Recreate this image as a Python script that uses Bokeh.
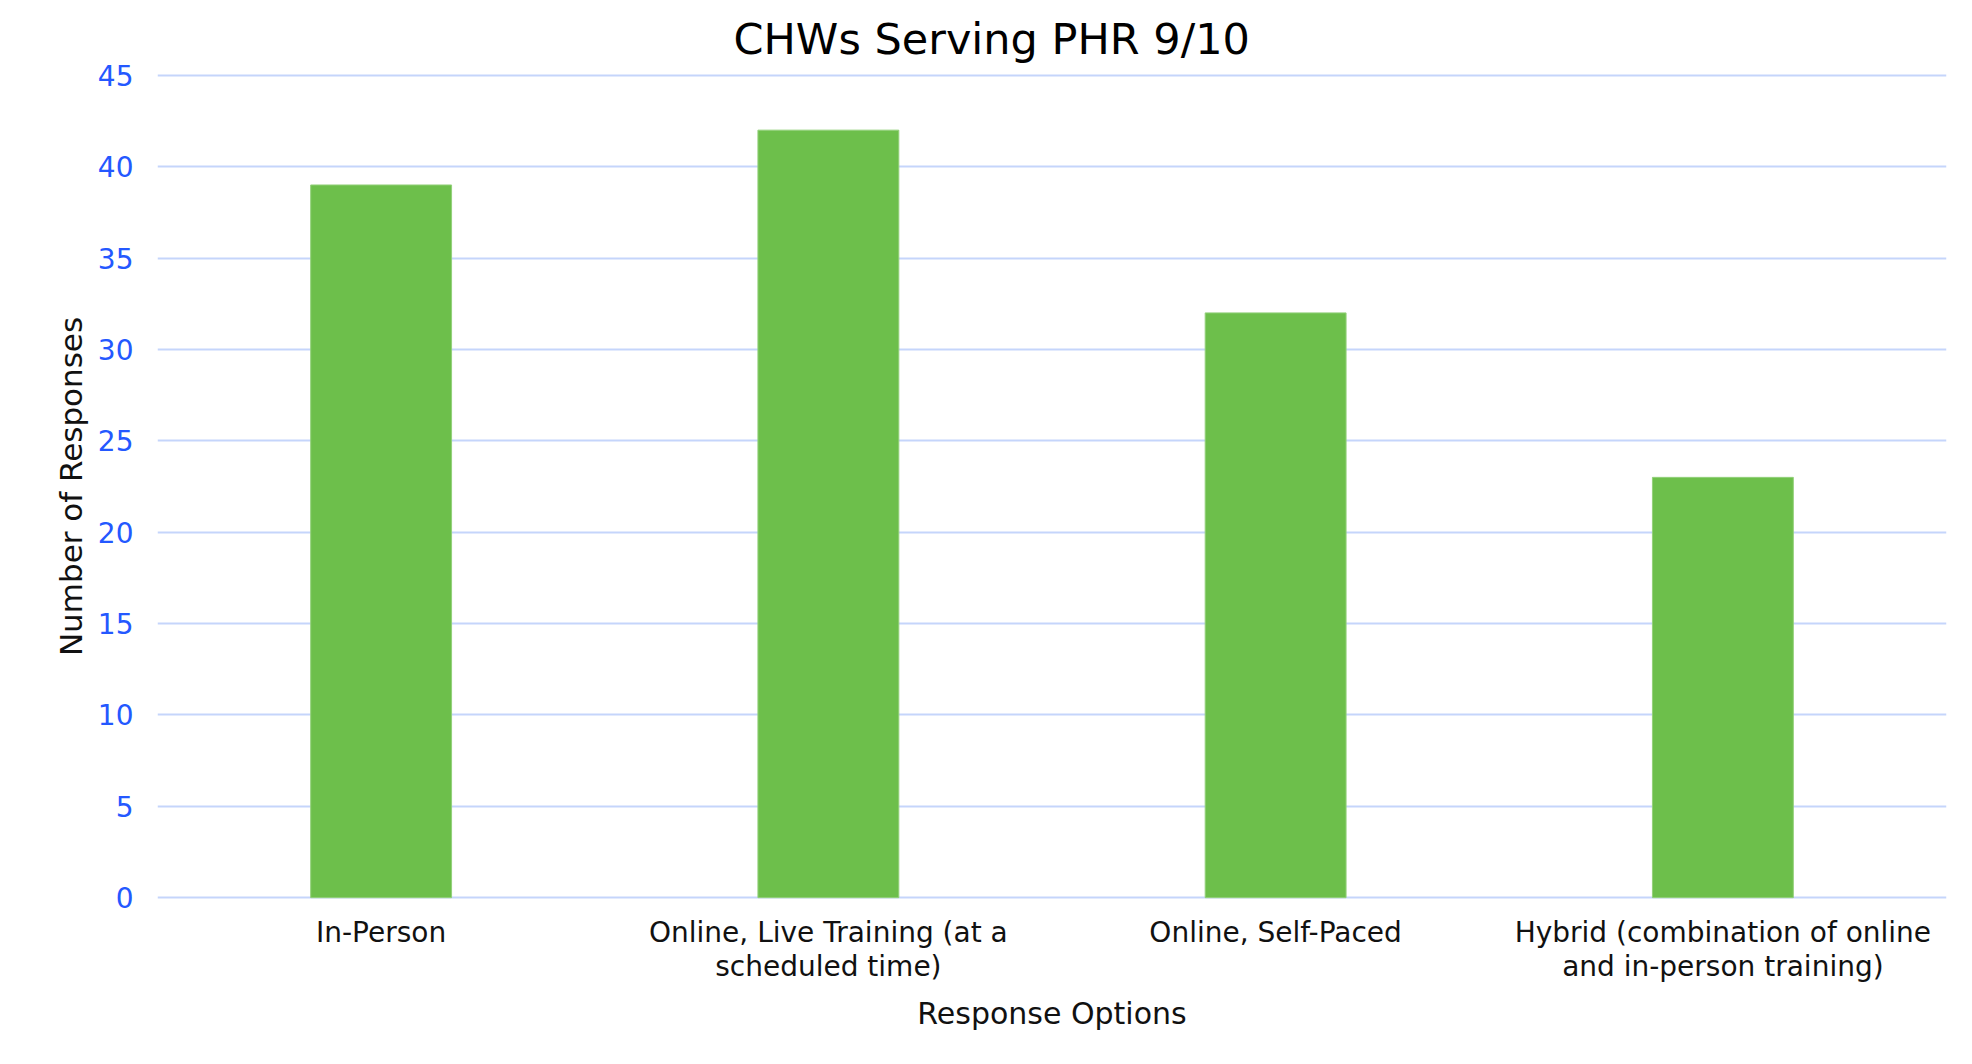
from bokeh.plotting import figure
from bokeh.models import Range1d
from bokeh.embed import file_html
from bokeh.resources import INLINE

categories = [
    "In-Person",
    "Online, Live Training (at a\nscheduled time)",
    "Online, Self-Paced",
    "Hybrid (combination of online\nand in-person training)",
]
responses = [39, 42, 32, 23]
y_ticks = [0, 5, 10, 15, 20, 25, 30, 35, 40, 45]
title_text = "CHWs Serving PHR 9/10"

FONT = "DejaVu Sans"

p = figure(
    x_range=categories,
    y_range=Range1d(-0.1, 45.1),
    width=1956,
    height=1048,
    output_backend="svg",
    toolbar_location=None,
    min_border_left=157,
    min_border_right=10,
    min_border_top=73,
    min_border_bottom=149,
)

p.vbar(x=categories, top=responses, width=0.315,
       fill_color="#6dbf4b", line_color="#93d07a", line_width=1)

# title
p.title.text = title_text
p.title.align = "left"
p.title.offset = 576
p.title.text_font = FONT
p.title.text_font_size = "43px"
p.title.text_font_style = "normal"
p.title.text_color = "#000000"
p.title.standoff = 20

# grid
p.xgrid.grid_line_color = None
p.ygrid.grid_line_color = "#c5d5fb"
p.ygrid.grid_line_width = 2
p.outline_line_color = None

# y axis
p.yaxis.ticker = y_ticks
p.yaxis.axis_line_color = None
p.yaxis.major_tick_line_color = None
p.yaxis.minor_tick_line_color = None
p.yaxis.major_label_text_font = FONT
p.yaxis.major_label_text_font_size = "28px"
p.yaxis.major_label_text_color = "#2458ff"
p.yaxis.major_label_standoff = 18
p.yaxis.axis_label = "Number of Responses"
p.yaxis.axis_label_text_font = FONT
p.yaxis.axis_label_text_font_size = "31px"
p.yaxis.axis_label_text_font_style = "normal"
p.yaxis.axis_label_text_color = "#111111"
p.yaxis.axis_label_standoff = 6

# x axis
p.xaxis.axis_line_color = None
p.xaxis.major_tick_line_color = None
p.xaxis.minor_tick_line_color = None
p.xaxis.major_label_text_font = FONT
p.xaxis.major_label_text_font_size = "28px"
p.xaxis.major_label_text_color = "#111111"
p.xaxis.major_label_standoff = 10
p.xaxis.major_label_text_line_height = 1.05
p.xaxis.axis_label = "Response Options"
p.xaxis.axis_label_text_font = FONT
p.xaxis.axis_label_text_font_size = "30px"
p.xaxis.axis_label_text_font_style = "normal"
p.xaxis.axis_label_text_color = "#111111"
p.xaxis.axis_label_standoff = 10

open("out.html", "w").write(file_html(p, INLINE))
